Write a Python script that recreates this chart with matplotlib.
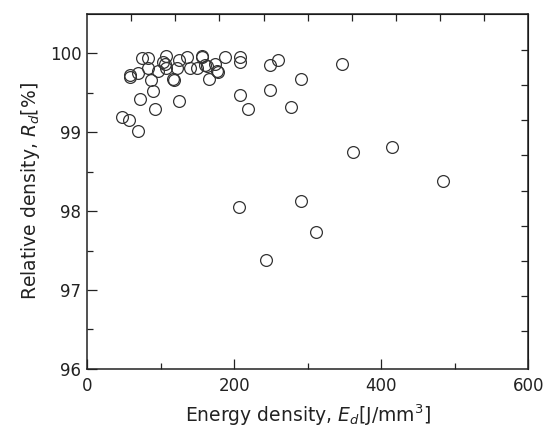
import matplotlib.pyplot as plt
import numpy as np

plt.rcParams['font.family'] = ['DejaVu Sans']
plt.rcParams['mathtext.fontset'] = 'dejavusans'

# energy density [J/mm3] and relative density [%]
energy = [47.6, 57.1, 69.4, 72.1, 92.5, 125.2, 89.8, 87.1, 117, 118.4,
          166, 58.5, 58.5, 69.4, 83, 96.6, 107.5, 122.4, 140, 149.7,
          163, 177, 178, 74.8, 83, 107.5, 103.4, 125.2, 136, 156.5,
          156.5, 174, 187.8, 208, 208, 208, 219, 249, 260, 249,
          277.6, 291, 347, 106, 160.5,
          362, 415, 484, 207, 291, 311.6, 243.5]
density = [99.19, 99.15, 99.01, 99.42, 99.29, 99.39, 99.52, 99.66, 99.68, 99.66,
           99.67, 99.70, 99.72, 99.75, 99.81, 99.78, 99.82, 99.81, 99.81, 99.81,
           99.84, 99.78, 99.76, 99.94, 99.94, 99.97, 99.89, 99.92, 99.95, 99.97,
           99.95, 99.87, 99.95, 99.95, 99.89, 99.47, 99.30, 99.85, 99.91, 99.54,
           99.32, 99.68, 99.87, 99.87, 99.85,
           98.75, 98.81, 98.38, 98.05, 98.13, 97.73, 97.38]

fig = plt.figure(figsize=(5.44, 4.34), dpi=100)
ax = fig.add_axes([0.160, 0.150, 0.811, 0.818])

ax.plot(energy, density, 'o', mfc='none', mec='#333333', ms=8.5, mew=0.9)

ax.set_xlim(0, 600)
ax.set_ylim(96, 100.5)
ax.set_xticks([0, 200, 400, 600])
ax.set_xticks([100, 300, 500], minor=True)
ax.set_yticks([96, 97, 98, 99, 100])
ax.set_yticks([96.5, 97.5, 98.5, 99.5], minor=True)
ax.tick_params(which='both', direction='in', labelsize=12, colors='#222222')
ax.tick_params(axis='x', pad=6)
ax.tick_params(axis='y', pad=4)
ax.tick_params(which='major', length=7, width=0.9)
ax.tick_params(which='minor', length=4, width=0.9)
for s in ax.spines.values():
    s.set_linewidth(1.1)
    s.set_color('#222222')

# the top and right frames carry their own (unlabelled) tick spacing
top = ax.secondary_xaxis('top')
top.set_xticks(np.arange(60, 600, 60))
top.set_xticklabels([])
top.tick_params(direction='in', length=5, width=0.9, colors='#222222')
right = ax.secondary_yaxis('right')
right.set_yticks(100.04 - 0.445 * np.arange(9))
right.set_yticklabels([])
right.tick_params(direction='in', length=5, width=0.9, colors='#222222')

ax.set_xlabel('Energy density, $E_d$[J/mm$^3$]', fontsize=13.5, color='#222222', labelpad=5)
ax.set_ylabel('Relative density, $R_d$[%]', fontsize=13.5, color='#222222', labelpad=6)

fig.savefig('out.png', dpi=100)
